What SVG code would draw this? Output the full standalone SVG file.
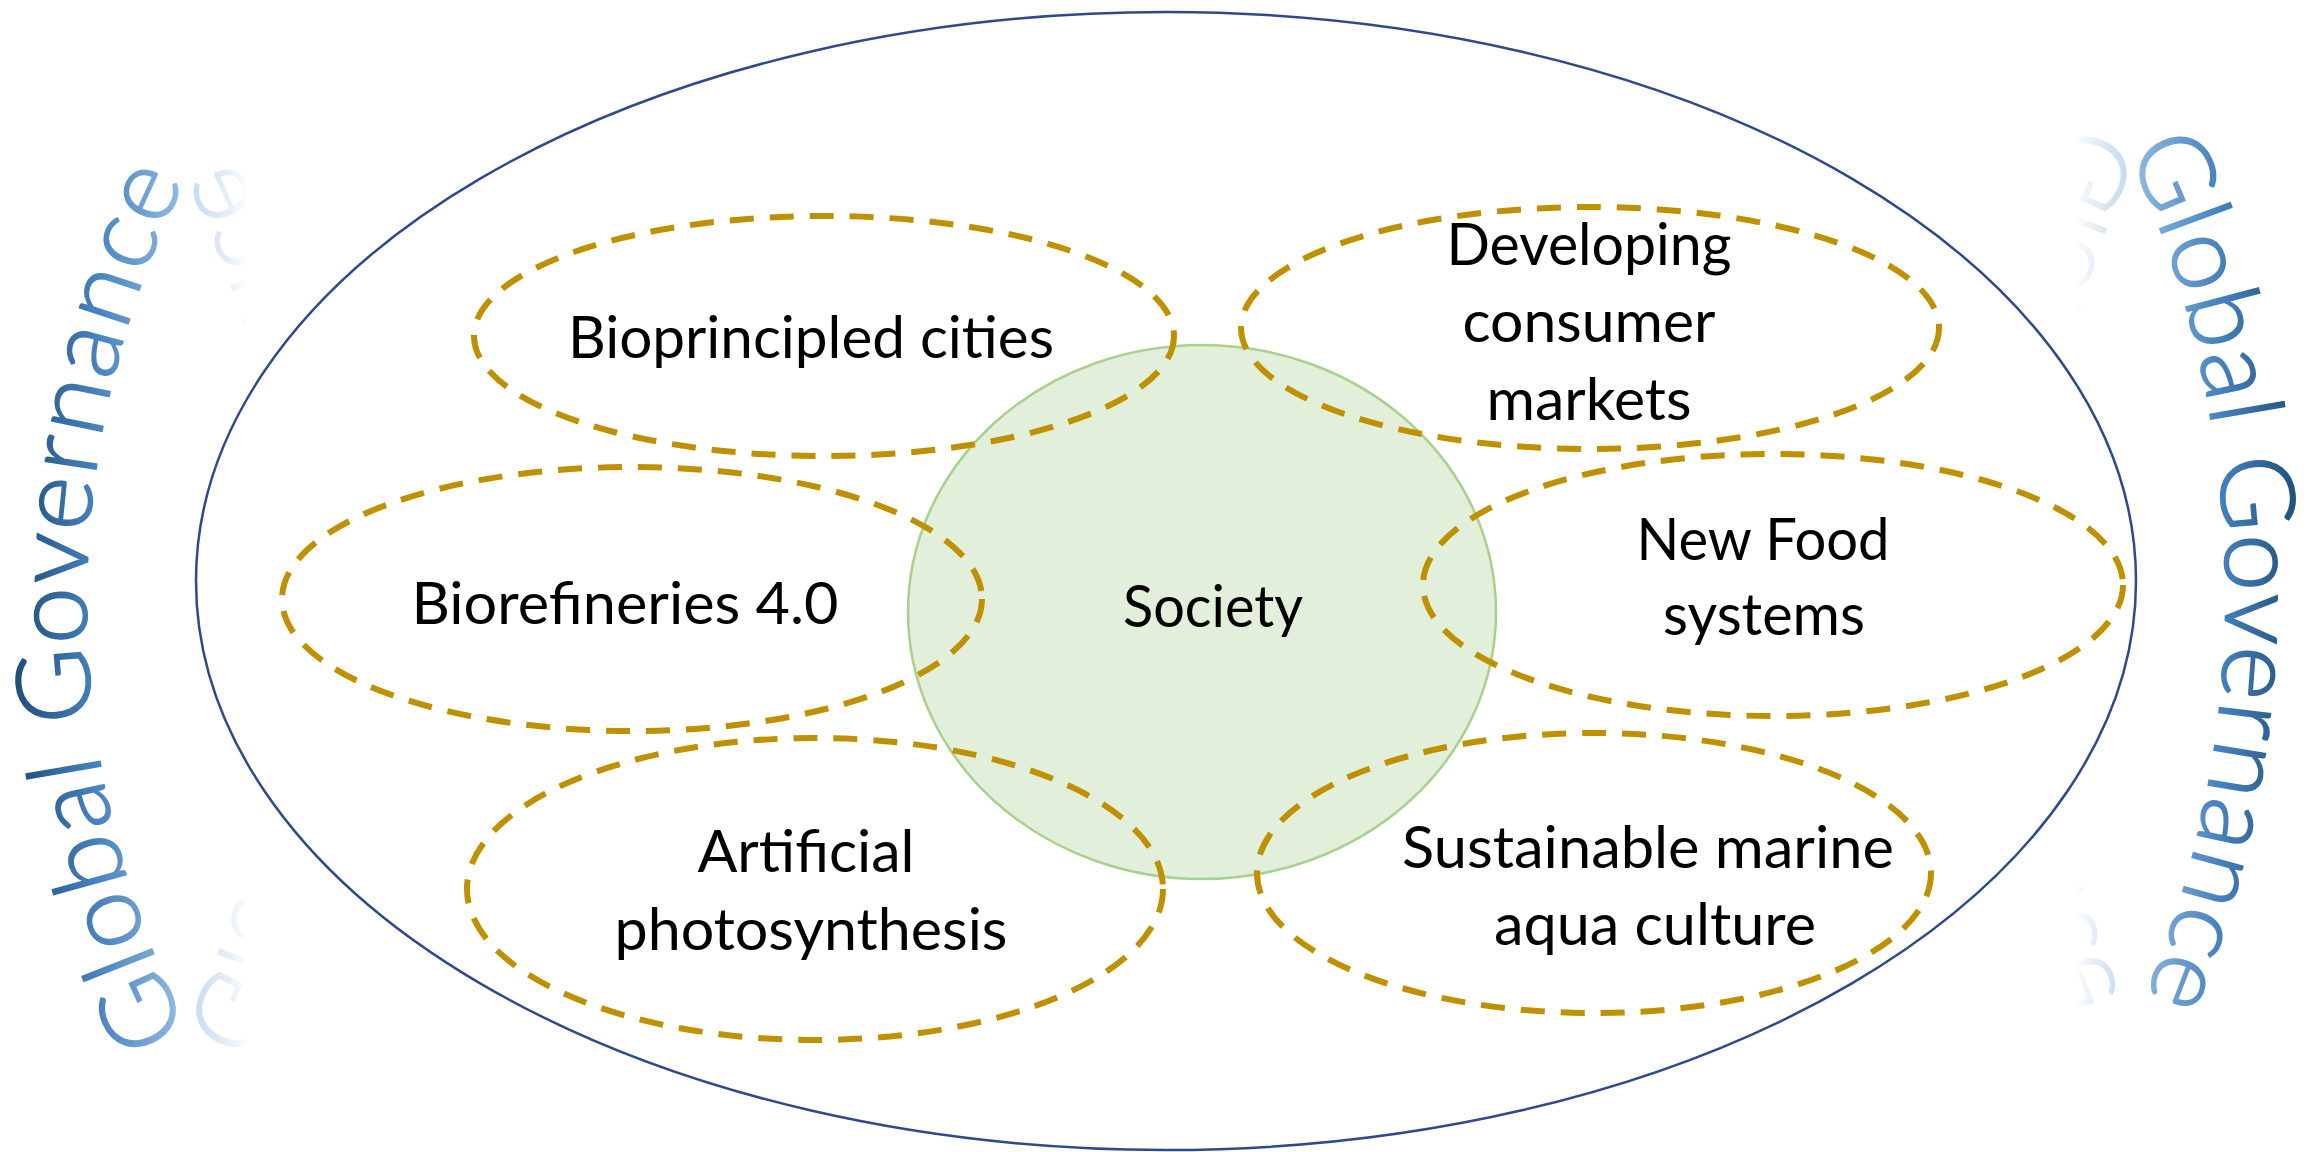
<svg xmlns="http://www.w3.org/2000/svg" xmlns:xlink="http://www.w3.org/1999/xlink" width="2318" height="1152" viewBox="0 0 2318 1152">
<style>
.lbl{font-family:Lato,"Liberation Sans",Arial,sans-serif;font-size:58px;fill:#000;text-anchor:middle}
.dash{fill:none;stroke:#bf9000;stroke-width:6;stroke-dasharray:24 16}
.gg{font-family:Lato,"Liberation Sans",Arial,sans-serif;font-weight:300;stroke-width:1.6}
</style>
<defs>
<path id="pL" d="M 189 1032 A 952 952 0 0 1 201 150"/>
<path id="pR" d="M 2127 150 A 1049 1049 0 0 1 2150 985"/>
<linearGradient id="gL" gradientUnits="userSpaceOnUse" x1="15" y1="0" x2="195" y2="0">
<stop offset="0" stop-color="#1f4e79"/>
<stop offset="0.45" stop-color="#4682bf"/>
<stop offset="1" stop-color="#9dc3e6"/>
</linearGradient>
<linearGradient id="gR" gradientUnits="userSpaceOnUse" x1="2300" y1="0" x2="2120" y2="0">
<stop offset="0" stop-color="#1f4e79"/>
<stop offset="0.45" stop-color="#4682bf"/>
<stop offset="1" stop-color="#9dc3e6"/>
</linearGradient>
<linearGradient id="fL" gradientUnits="userSpaceOnUse" x1="186" y1="0" x2="248" y2="0">
<stop offset="0" stop-color="#fff" stop-opacity="0.55"/>
<stop offset="1" stop-color="#fff" stop-opacity="0"/>
</linearGradient>
<linearGradient id="fR" gradientUnits="userSpaceOnUse" x1="2133" y1="0" x2="2075" y2="0">
<stop offset="0" stop-color="#fff" stop-opacity="0.55"/>
<stop offset="1" stop-color="#fff" stop-opacity="0"/>
</linearGradient>
<mask id="mL" maskUnits="userSpaceOnUse" x="0" y="0" width="2318" height="1152">
<rect x="186" y="0" width="80" height="1152" fill="url(#fL)"/>
</mask>
<mask id="mR" maskUnits="userSpaceOnUse" x="0" y="0" width="2318" height="1152">
<rect x="2050" y="0" width="83" height="1152" fill="url(#fR)"/>
</mask>
</defs>
<rect width="2318" height="1152" fill="#fff"/>
<g id="outer">
<ellipse cx="1166" cy="581" rx="970" ry="569" fill="none" stroke="#2e4a8e" stroke-width="2.5"/>
</g>
<g id="society">
<ellipse cx="1202" cy="612" rx="294" ry="267" fill="#e2efda" stroke="#a9d18e" stroke-width="2.5"/>
<text class="lbl" x="1213" y="627" textLength="180" lengthAdjust="spacingAndGlyphs">Society</text>
</g>
<g id="connectors"></g>
<g id="bioprincipled">
<ellipse class="dash" cx="824" cy="336" rx="350" ry="120"/>
<text class="lbl" x="811" y="358" textLength="486" lengthAdjust="spacingAndGlyphs">Bioprincipled cities</text>
</g>
<g id="developing">
<ellipse class="dash" cx="1590" cy="328" rx="349" ry="121"/>
<text class="lbl" x="1589" y="265" textLength="285" lengthAdjust="spacingAndGlyphs">Developing</text>
<text class="lbl" x="1589" y="342" textLength="253" lengthAdjust="spacingAndGlyphs">consumer</text>
<text class="lbl" x="1589" y="420" textLength="205" lengthAdjust="spacingAndGlyphs">markets</text>
</g>
<g id="biorefineries">
<ellipse class="dash" cx="632" cy="599" rx="350" ry="132"/>
<text class="lbl" x="625" y="624" textLength="427" lengthAdjust="spacingAndGlyphs">Biorefineries 4.0</text>
</g>
<g id="newfood">
<ellipse class="dash" cx="1773" cy="585" rx="350" ry="131"/>
<text class="lbl" x="1763" y="560" textLength="253" lengthAdjust="spacingAndGlyphs">New Food</text>
<text class="lbl" x="1764" y="635" textLength="202" lengthAdjust="spacingAndGlyphs">systems</text>
</g>
<g id="artificial">
<ellipse class="dash" cx="815" cy="889" rx="348" ry="151"/>
<text class="lbl" x="806" y="872" textLength="217" lengthAdjust="spacingAndGlyphs">Artificial</text>
<text class="lbl" x="811" y="950" textLength="393" lengthAdjust="spacingAndGlyphs">photosynthesis</text>
</g>
<g id="marine">
<ellipse class="dash" cx="1594" cy="873" rx="337" ry="140"/>
<text class="lbl" x="1648" y="868" textLength="492" lengthAdjust="spacingAndGlyphs">Sustainable marine</text>
<text class="lbl" x="1655" y="945" textLength="322" lengthAdjust="spacingAndGlyphs">aqua culture</text>
</g>
<g id="governance-left">
<text id="tL" class="gg" font-size="103" fill="url(#gL)" stroke="url(#gL)"><textPath href="#pL" xlink:href="#pL" textLength="882" lengthAdjust="spacing">Global Governance</textPath></text>
<g mask="url(#mL)"><use href="#tL" xlink:href="#tL" transform="matrix(-1 0 0 1 372 0)"/></g>
</g>
<g id="governance-right">
<text id="tR" class="gg" font-size="103" fill="url(#gR)" stroke="url(#gR)"><textPath href="#pR" xlink:href="#pR" textLength="872" lengthAdjust="spacing">Global Governance</textPath></text>
<g mask="url(#mR)"><use href="#tR" xlink:href="#tR" transform="matrix(-1 0 0 1 4266 0)"/></g>
</g>
</svg>
